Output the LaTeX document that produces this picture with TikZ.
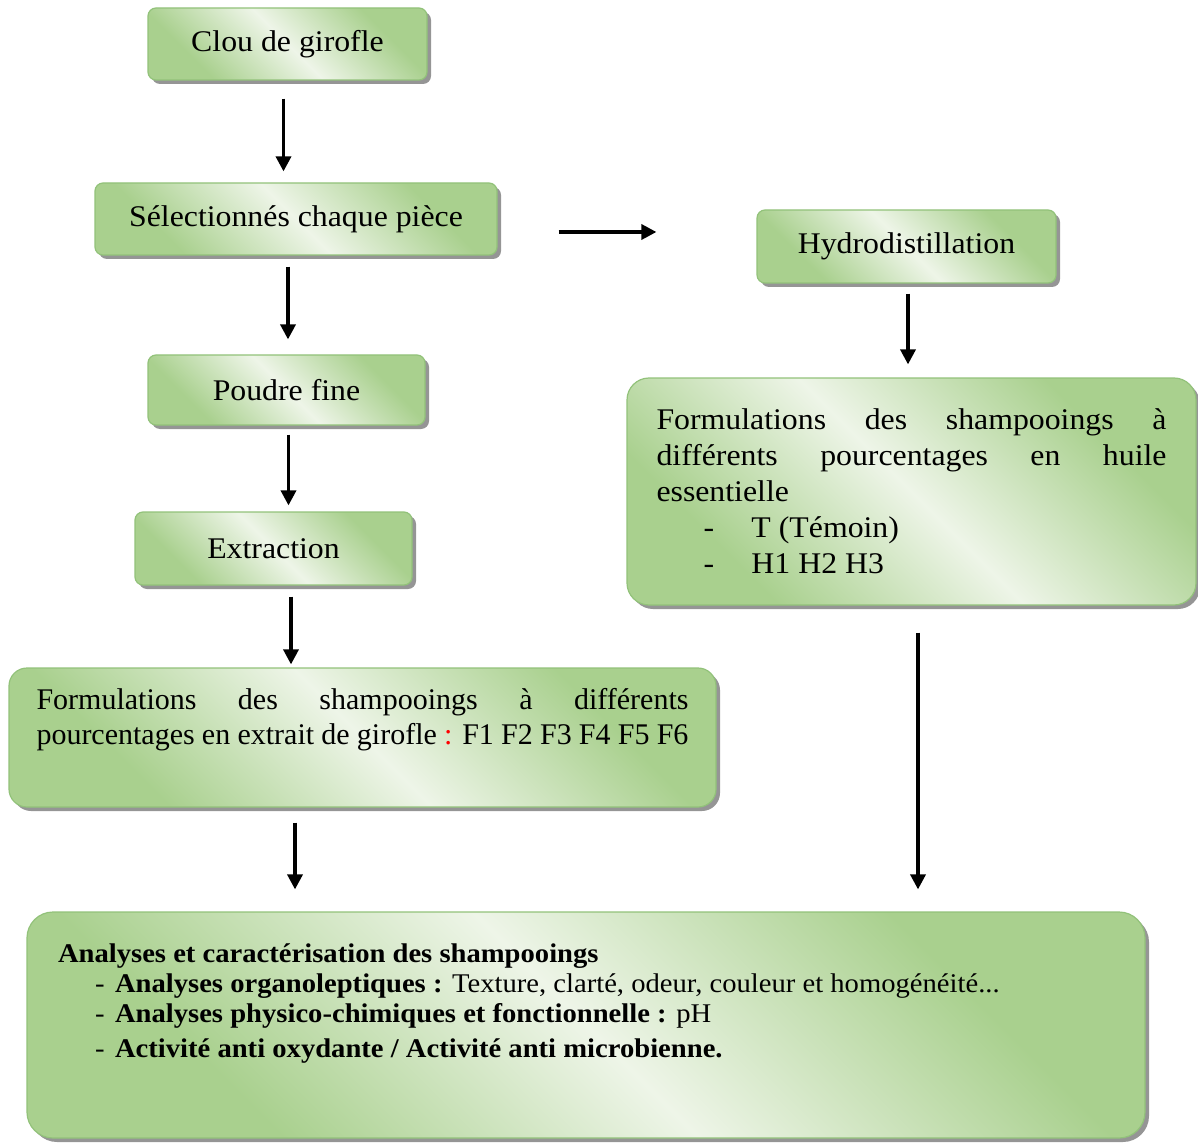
\documentclass[tikz,border=0pt]{standalone}
\usepackage{fontspec}
\setmainfont[FakeStretch=1.06]{Liberation Serif}
\newfontfamily\flatserif{Liberation Serif}
\usetikzlibrary{arrows.meta, shadows}
\definecolor{LeafDark}{HTML}{A9D08E}
\definecolor{LeafLight}{HTML}{EEF5E8}
\definecolor{LeafLine}{HTML}{92C27A}
\definecolor{ShadowGray}{HTML}{8A8A8A}
\pgfdeclarehorizontalshading{leafband}{100bp}{color(0bp)=(LeafDark); color(28bp)=(LeafDark); color(50bp)=(LeafLight); color(72bp)=(LeafDark); color(100bp)=(LeafDark)}
\tikzset{
  stepbox/.style={rectangle, rounded corners=4pt, draw=LeafLine, line width=0.6pt,
                  shade, shading=leafband, shading angle=45,
                  drop shadow={shadow xshift=2pt, shadow yshift=-2pt, fill=ShadowGray, opacity=0.9},
                  font=\fontsize{15}{18}\selectfont, inner sep=0pt, align=center},
  flowarrow/.style={-{Triangle[length=7.5pt,width=7.5pt]}, line width=1.7pt}
}

\begin{document}
\begin{tikzpicture}[x=0.5pt, y=-0.5pt]
    \useasboundingbox (0,0) rectangle (1198,1144);

    % Left chain
    \node[stepbox, minimum width=139.5pt, minimum height=36pt] (clou) at (287.5,44) {Clou de girofle};
    \node[stepbox, minimum width=201pt, minimum height=36pt] (sel) at (296,219) {Sélectionnés chaque pièce};
    \node[stepbox, minimum width=138.5pt, minimum height=35pt] (poudre) at (286.5,390) {Poudre fine};
    \node[stepbox, minimum width=138.5pt, minimum height=36.5pt] (extr) at (273.5,548.5) {Extraction};
    \node[stepbox, rounded corners=9pt, minimum width=353.5pt, minimum height=69.5pt,
          inner xsep=13.75pt, inner ysep=10pt, font=\fontsize{15}{17.5}\flatserif] (formF) at (362.5,737.5)
          {\parbox[c][49.5pt][t]{326pt}{\makebox[\linewidth][s]{Formulations des shampooings à différents}\par
           \makebox[\linewidth][s]{pourcentages en extrait de girofle {\color{red}:} F1 F2 F3 F4 F5 F6}}};

    % Right chain
    \node[stepbox, minimum width=149.5pt, minimum height=36.5pt] (hydro) at (906.5,246.5) {Hydrodistillation};
    \node[stepbox, rounded corners=11pt, minimum width=284.5pt, minimum height=113.5pt,
          inner xsep=14.75pt] (formH) at (911.5,491.5)
          {\parbox{255pt}{Formulations des shampooings à\linebreak
           différents pourcentages en huile\linebreak essentielle\par
           \hspace*{23.5pt}\makebox[24pt][l]{-}T (Témoin)\par
           \hspace*{23.5pt}\makebox[24pt][l]{-}H1 H2 H3}};

    % Analyses
    \node[stepbox, rounded corners=13pt, minimum width=559pt, minimum height=113pt,
          inner xsep=15.5pt, inner ysep=16pt, font=\fontsize{13.5}{15}\selectfont] (analyses) at (586,1025)
          {\parbox[c][81pt][t]{528pt}{\textbf{Analyses et caractérisation des shampooings}\par
           \hspace*{18.5pt}\makebox[10pt][l]{-}\textbf{Analyses organoleptiques :} Texture, clarté, odeur, couleur et homogénéité...\par
           \hspace*{18.5pt}\makebox[10pt][l]{-}\textbf{Analyses physico-chimiques et fonctionnelle :} pH\par\vspace{2.5pt}
           \hspace*{18.5pt}\makebox[10pt][l]{-}\textbf{Activité anti oxydante / Activité anti microbienne.}}};

    % Arrows
    \draw[flowarrow, shorten <=9pt, shorten >=5.5pt] ([xshift=-2pt]clou.south) -- ([xshift=-2pt]clou.south |- sel.north);
    \draw[flowarrow, shorten <=5.5pt, shorten >=7.5pt] ([xshift=-4pt]sel.south) -- ([xshift=-4pt]sel.south |- poudre.north);
    \draw[flowarrow, shorten <=4.5pt, shorten >=3pt] ([xshift=1pt]poudre.south) -- ([xshift=1pt]poudre.south |- extr.north);
    \draw[flowarrow, shorten <=5.5pt, shorten >=1.5pt] ([xshift=8.75pt]extr.south) -- ([xshift=8.75pt]extr.south |- formF.north);
    \draw[flowarrow, shorten <=7.5pt, shorten >=11pt] ([xshift=-33.75pt]formF.south) -- ([xshift=-33.75pt]formF.south |- analyses.north);
    \draw[flowarrow, shorten <=30.5pt, shorten >=50pt] ([yshift=-6.5pt]sel.east) -- ([yshift=-6.5pt]sel.east -| hydro.west);
    \draw[flowarrow, shorten <=5pt, shorten >=6.5pt] ([xshift=0.75pt]hydro.south) -- ([xshift=0.75pt]hydro.south |- formH.north);
    \draw[flowarrow, shorten <=13.5pt, shorten >=11pt] ([xshift=3.25pt]formH.south) -- ([xshift=3.25pt]formH.south |- analyses.north);
\end{tikzpicture}
\end{document}
